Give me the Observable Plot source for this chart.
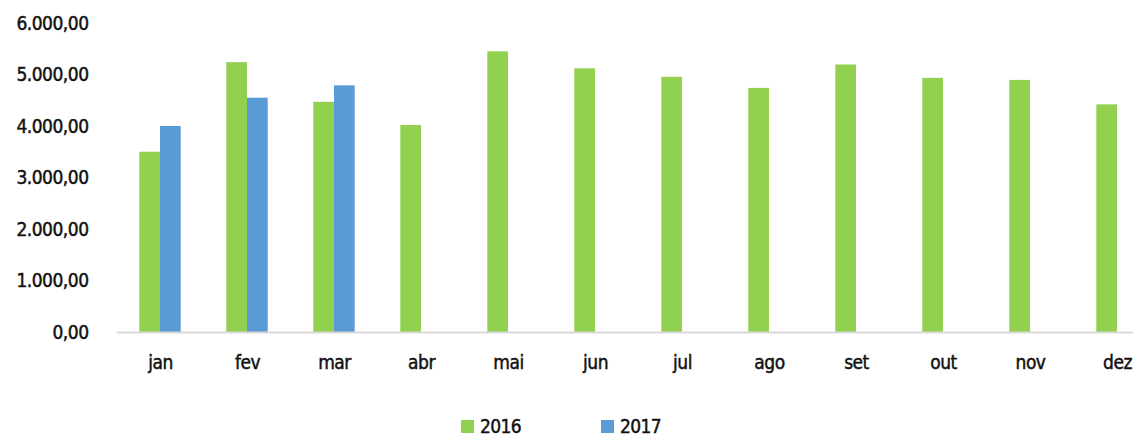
<!DOCTYPE html>
<html>
<head>
<meta charset="utf-8">
<script src="https://cdn.jsdelivr.net/npm/d3@7"></script>
<script src="https://cdn.jsdelivr.net/npm/@observablehq/plot@0.6"></script>
<style>
  html, body { margin: 0; padding: 0; background: #fff; overflow: hidden; width: 1133px; height: 436px; }
  #chart { position: absolute; left: 0; top: 0; width: 1161px; }
  #chart svg { max-width: none !important; height: 395px !important; }
  #chart svg text { stroke: #111; stroke-width: 0.45px; }
  #legend { position: absolute; top: 415px; left: 0; width: 1133px; height: 22px;
    font-family: "DejaVu Sans Condensed", sans-serif; font-size: 19px; letter-spacing: -0.6px; color: #111;
    -webkit-text-stroke: 0.45px #111; }
  .item { position: absolute; top: 0; display: flex; align-items: center; }
  .sw { width: 13px; height: 13px; margin-right: 6px; margin-top: 0px; }
</style>
</head>
<body>
<div id="chart"></div>
<div id="legend"></div>
<script>
const months = ["jan","fev","mar","abr","mai","jun","jul","ago","set","out","nov","dez"];
const years = ["2016","2017"];
const colors = ["#92D050","#5B9BD5"];
const values2016 = [3500, 5240, 4470, 4020, 5450, 5120, 4955, 4740, 5195, 4935, 4895, 4420];
const values2017 = [4000, 4550, 4790, null, null, null, null, null, null, null, null, null];
const yTicks = [0, 1000, 2000, 3000, 4000, 5000, 6000];

const rows2016 = months.map((m, i) => ({month: m, value: values2016[i]}));
const rows2017 = months.map((m, i) => ({month: m, value: values2017[i]})).filter(d => d.value != null);

const locale = d3.formatLocale({decimal: ",", thousands: ".", grouping: [3], currency: ["R$", ""]});
const fmt = locale.format(",.2f");

const W = 1161, ML = 116.5, MR = 0.5;
const step = (W - ML - MR) / months.length;
const barW = 20.7;
const half = step / 2;

const plot = Plot.plot({
  width: W,
  height: 395,
  marginLeft: ML,
  marginRight: MR,
  marginTop: 23,
  marginBottom: 63,
  style: {fontFamily: "'DejaVu Sans Condensed', sans-serif", fontSize: "19px", letterSpacing: "-0.5px", color: "#111", background: "#fff", maxWidth: "none"},
  x: {domain: months, padding: 0, round: false, label: null},
  y: {domain: [0, 6000], label: null},
  marks: [
    Plot.axisY({ticks: yTicks, tickFormat: fmt, tickSize: 0, tickPadding: 28.5, label: null}),
    Plot.axisX({tickSize: 0, tickPadding: 23, label: null}),
    Plot.barY(rows2016, {x: "month", y: "value", fill: colors[0], insetLeft: half - barW, insetRight: half}),
    Plot.barY(rows2017, {x: "month", y: "value", fill: colors[1], insetLeft: half, insetRight: half - barW}),
    Plot.ruleY([0], {stroke: "#D9D9D9", strokeWidth: 2})
  ]
});
document.getElementById("chart").appendChild(plot);

const legend = document.getElementById("legend");
const legendX = [461, 601];
years.forEach((y, i) => {
  const it = document.createElement("div");
  it.className = "item";
  it.style.left = legendX[i] + "px";
  const sw = document.createElement("div");
  sw.className = "sw";
  sw.style.background = colors[i];
  const t = document.createElement("span");
  t.textContent = y;
  it.appendChild(sw); it.appendChild(t);
  legend.appendChild(it);
});
</script>
</body>
</html>
